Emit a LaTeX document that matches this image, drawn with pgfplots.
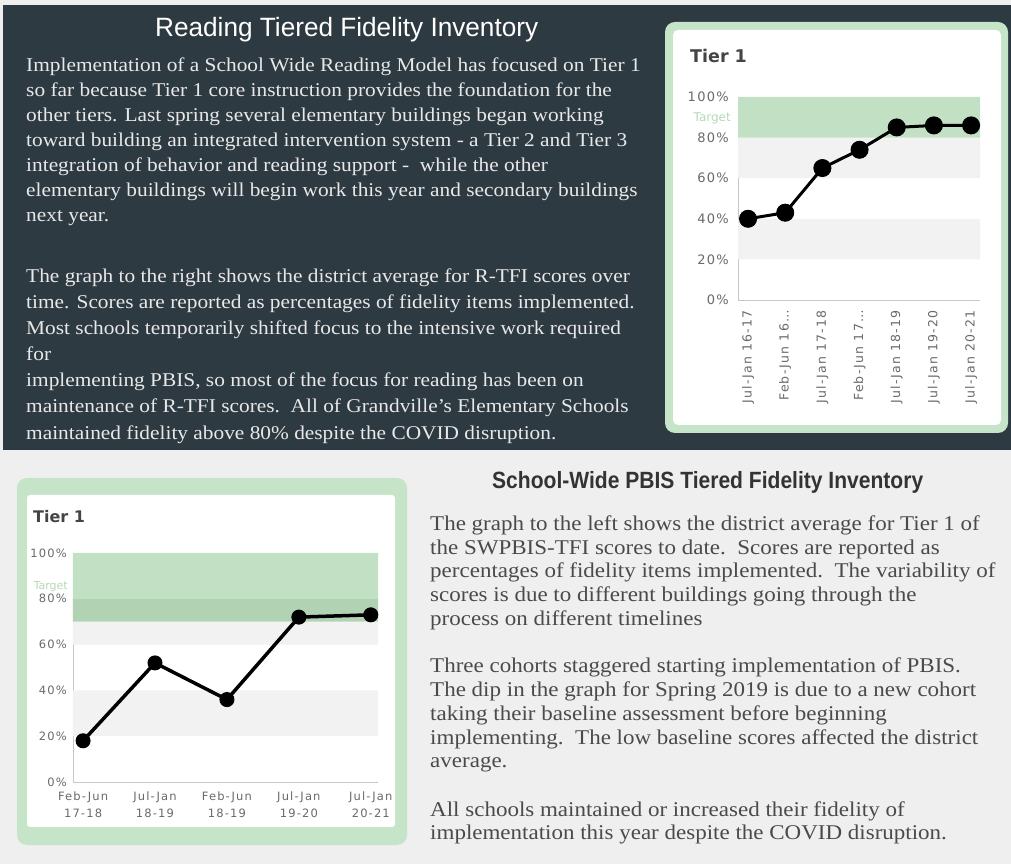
\documentclass[border=0pt]{standalone}
\usepackage{pgfplots}
\pgfplotsset{compat=1.18}
\usepackage{graphicx}
\usepackage{fontspec}
\setmainfont{Liberation Serif}
\newfontfamily\titlefont{Liberation Sans}
\newfontfamily\chartfont{DejaVu Sans}
\newfontfamily\tickfont{DejaVu Sans}[LetterSpace=10]
\definecolor{darkbg}{HTML}{2E3A42}
\definecolor{lightbg}{HTML}{EFEFEF}
\definecolor{boxgreen}{HTML}{C5E4C8}
\definecolor{bandgreen}{HTML}{C2E1C4}
\definecolor{bandgreentwo}{HTML}{B1D3B3}
\definecolor{bandgray}{HTML}{F2F2F2}
\definecolor{targetgreen}{HTML}{B5D9B8}
\definecolor{ticktext}{HTML}{6A6A6A}
\definecolor{toptext}{HTML}{E8E8E8}
\definecolor{bottext}{HTML}{4A4A4A}
\definecolor{bottitle}{HTML}{333333}
\definecolor{tiertext}{HTML}{444444}
\def\topsx{1.095}
\def\botsx{1.095}
\newcommand{\TT}[2]{\node[anchor=base west,inner sep=0pt,text=toptext,font=\fontsize{19.5}{20}\selectfont,xscale=\topsx] at (26,864-#1) {#2};}
\newcommand{\BT}[2]{\node[anchor=base west,inner sep=0pt,text=bottext,font=\fontsize{21}{22}\selectfont,xscale=\botsx] at (430,864-#1) {#2};}
\begin{document}
\begin{tikzpicture}[x=1pt,y=1pt]
\fill[lightbg] (0,0) rectangle (1011,864);
\fill[darkbg] (3,414) rectangle (1011,859);
% titles
\node[anchor=base west,inner sep=0pt,text=white] at (155,864-37) {\resizebox{383pt}{\height}{\titlefont\fontsize{26.5}{27}\selectfont Reading Tiered Fidelity Inventory}};
\node[anchor=base west,inner sep=0pt,text=bottitle] at (492,864-489) {\resizebox{431pt}{\height}{\titlefont\bfseries\fontsize{23.5}{24}\selectfont School-Wide PBIS Tiered Fidelity Inventory}};
% top text
\TT{72}{Implementation of a School Wide Reading Model has focused on Tier 1}
\TT{97}{so far because Tier 1 core instruction provides the foundation for the}
\TT{122}{other tiers. Last spring several elementary buildings began working}
\TT{147}{toward building an integrated intervention system - a Tier 2 and Tier 3}
\TT{172}{integration of behavior and reading support -\ \ while the other}
\TT{197}{elementary buildings will begin work this year and secondary buildings}
\TT{222}{next year.}
\TT{283}{The graph to the right shows the district average for R-TFI scores over}
\TT{309}{time. Scores are reported as percentages of fidelity items implemented.}
\TT{335}{Most schools temporarily shifted focus to the intensive work required}
\TT{361}{for}
\TT{387}{implementing PBIS, so most of the focus for reading has been on}
\TT{413}{maintenance of R-TFI scores.\ \ All of Grandville's Elementary Schools}
\TT{440}{maintained fidelity above 80\% despite the COVID disruption.}
% bottom text
\BT{531}{The graph to the left shows the district average for Tier 1 of}
\BT{555}{the SWPBIS-TFI scores to date.\ \ Scores are reported as}
\BT{578}{percentages of fidelity items implemented.\ \ The variability of}
\BT{602}{scores is due to different buildings going through the}
\BT{626}{process on different timelines}
\BT{673}{Three cohorts staggered starting implementation of PBIS.}
\BT{697}{The dip in the graph for Spring 2019 is due to a new cohort}
\BT{721}{taking their baseline assessment before beginning}
\BT{745}{implementing.\ \ The low baseline scores affected the district}
\BT{768}{average.}
\BT{817}{All schools maintained or increased their fidelity of}
\BT{840}{implementation this year despite the COVID disruption.}
% top chart box
\fill[boxgreen,rounded corners=10pt] (665,864-433) rectangle (1008,864-22);
\fill[white,rounded corners=5pt] (673,864-425) rectangle (1001,864-30);
\node[anchor=base west,inner sep=0pt,text=tiertext,font=\chartfont\bfseries\fontsize{17.5}{18}\selectfont] at (690,864-63) {Tier 1};
\node[anchor=east,inner sep=0pt,text=targetgreen,font=\chartfont\fontsize{12}{12}\selectfont] at (731,864-118) {Target};
\begin{axis}[
  at={(738pt,564pt)}, anchor=south west, scale only axis,
  width=242pt, height=203pt,
  xmin=-0.27, xmax=6.24, ymin=0, ymax=100,
  axis x line*=bottom, axis y line*=left,
  axis line style={draw=black!22, line width=0.8pt, -},
  major tick length=0pt,
  /pgf/number format/assume math mode=true,
  ytick={0,20,40,60,80,100},
  yticklabel={\pgfmathprintnumber{\tick}\%},
  yticklabel style={font=\tickfont\fontsize{13}{13}\selectfont, text=ticktext, inner sep=0pt},
  yticklabel shift=9pt,
  xtick={0,1,2,3,4,5,6},
  xticklabels={Jul-Jan 16-17,Feb-Jun 16…,Jul-Jan 17-18,Feb-Jun 17…,Jul-Jan 18-19,Jul-Jan 19-20,Jul-Jan 20-21},
  xticklabel style={rotate=90, anchor=east, font=\tickfont\fontsize{12.5}{13}\selectfont, text=ticktext, inner sep=0pt},
  xticklabel shift=10pt,
  clip=false,
]
\addplot[draw=none, fill=bandgray, forget plot] coordinates {(-0.27,20) (6.24,20) (6.24,40) (-0.27,40) (-0.27,20)};
\addplot[draw=none, fill=bandgray, forget plot] coordinates {(-0.27,60) (6.24,60) (6.24,80) (-0.27,80) (-0.27,60)};
\addplot[draw=none, fill=bandgreen, forget plot] coordinates {(-0.27,80) (6.24,80) (6.24,100) (-0.27,100) (-0.27,80)};
\addplot[black, line width=3pt, mark=*, mark size=8.5pt, mark options={fill=black, line width=1pt}]
  coordinates {(0,40) (1,43) (2,65) (3,74) (4,85) (5,86) (6,86)};
\end{axis}
% bottom chart box
\fill[boxgreen,rounded corners=10pt] (17,864-845) rectangle (407,864-478);
\fill[white,rounded corners=3pt] (27,864-827) rectangle (395,864-495);
\node[anchor=base west,inner sep=0pt,text=tiertext,font=\chartfont\bfseries\fontsize{16}{16}\selectfont] at (33,864-523) {Tier 1};
\node[anchor=east,inner sep=0pt,text=targetgreen,font=\chartfont\fontsize{11}{11}\selectfont] at (68,864-587) {Target};
\begin{axis}[
  at={(73pt,82pt)}, anchor=south west, scale only axis,
  width=305pt, height=229pt,
  xmin=-0.14, xmax=4.1, ymin=0, ymax=100,
  axis x line*=bottom, axis y line*=left,
  axis line style={draw=black!22, line width=0.8pt, -},
  major tick length=0pt,
  /pgf/number format/assume math mode=true,
  ytick={0,20,40,60,80,100},
  yticklabel={\pgfmathprintnumber{\tick}\%},
  yticklabel style={font=\tickfont\fontsize{11.5}{12}\selectfont, text=ticktext, inner sep=0pt},
  yticklabel shift=6pt,
  xtick={0,1,2,3,4},
  xticklabels={{Feb-Jun\\17-18},{Jul-Jan\\18-19},{Feb-Jun\\18-19},{Jul-Jan\\19-20},{Jul-Jan\\20-21}},
  xticklabel style={align=center, font=\tickfont\fontsize{11.5}{16.5}\selectfont, text=ticktext, inner sep=0pt},
  xticklabel shift=10pt,
  clip=false,
]
\addplot[draw=none, fill=bandgray, forget plot] coordinates {(-0.14,20) (4.1,20) (4.1,40) (-0.14,40) (-0.14,20)};
\addplot[draw=none, fill=bandgray, forget plot] coordinates {(-0.14,60) (4.1,60) (4.1,70) (-0.14,70) (-0.14,60)};
\addplot[draw=none, fill=bandgreentwo, forget plot] coordinates {(-0.14,70) (4.1,70) (4.1,80) (-0.14,80) (-0.14,70)};
\addplot[draw=none, fill=bandgreen, forget plot] coordinates {(-0.14,80) (4.1,80) (4.1,100) (-0.14,100) (-0.14,80)};
\addplot[black, line width=3.5pt, mark=*, mark size=7pt, mark options={fill=black, line width=1pt}]
  coordinates {(0,18) (1,52) (2,36) (3,72) (4,73)};
\end{axis}
\pgfresetboundingbox
\path[use as bounding box] (0,0) rectangle (1011,864);
\end{tikzpicture}
\end{document}
